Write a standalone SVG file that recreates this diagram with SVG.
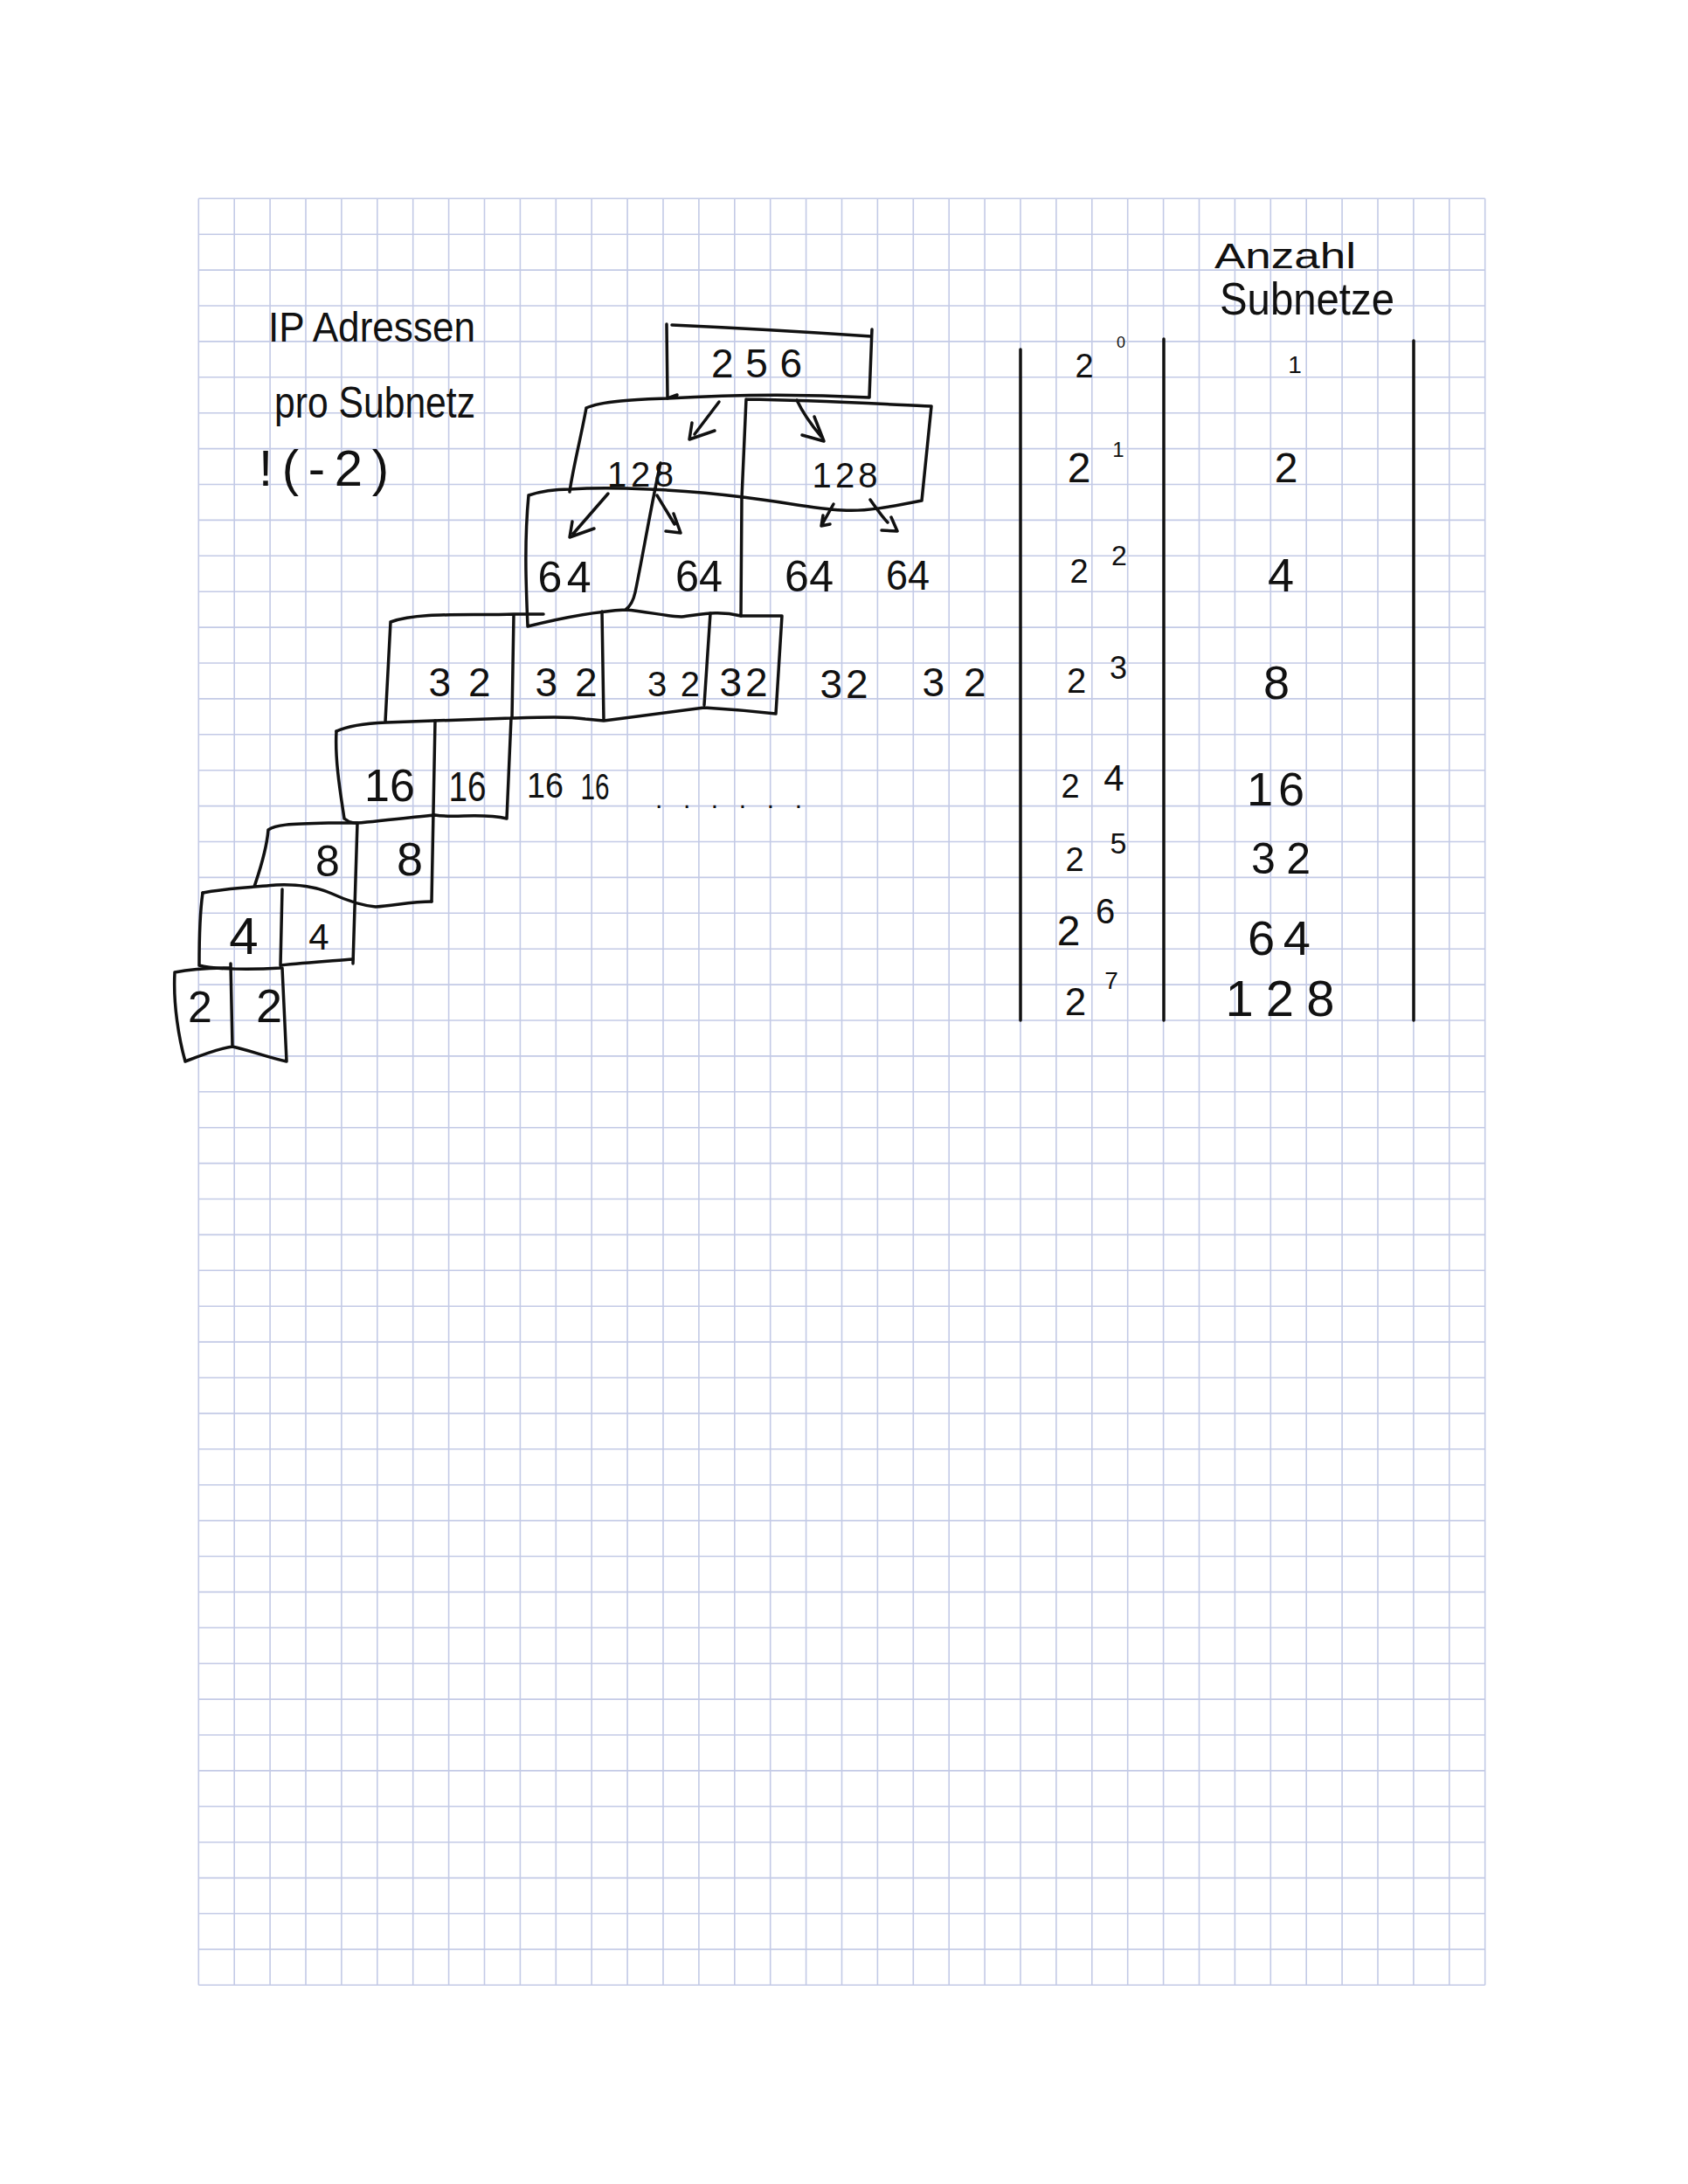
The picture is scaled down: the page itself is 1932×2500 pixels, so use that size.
<svg xmlns="http://www.w3.org/2000/svg" width="1932" height="2500" viewBox="0 0 1932 2500">
<style>
.grid{stroke:#c3cae6;stroke-width:1.6;fill:none}
.ink{stroke:#111;stroke-width:3.5;fill:none;stroke-linecap:round;stroke-linejoin:round}
.t{font-family:"Liberation Sans",Arial,sans-serif;fill:#111;text-anchor:middle}
.s{font-family:"Liberation Sans",Arial,sans-serif;fill:#111;text-anchor:start}
</style>
<rect width="1932" height="2500" fill="#fff"/>
<g id="grid">
<path class="grid" d="M227.3 227.3v2045m40.9-2045v2045m40.9-2045v2045m40.9-2045v2045m40.9-2045v2045m40.9-2045v2045m40.9-2045v2045m40.9-2045v2045m40.9-2045v2045m40.9-2045v2045m40.9-2045v2045m40.9-2045v2045m40.9-2045v2045m40.9-2045v2045m40.9-2045v2045m40.9-2045v2045m40.9-2045v2045m40.9-2045v2045m40.9-2045v2045m40.9-2045v2045m40.9-2045v2045m40.9-2045v2045m40.9-2045v2045m40.9-2045v2045m40.9-2045v2045m40.9-2045v2045m40.9-2045v2045m40.9-2045v2045m40.9-2045v2045m40.9-2045v2045m40.9-2045v2045m40.9-2045v2045m40.9-2045v2045m40.9-2045v2045m40.9-2045v2045m40.9-2045v2045m40.9-2045v2045"/>
<path class="grid" d="M227.3 227.3h1472.4m-1472.4 40.9h1472.4m-1472.4 40.9h1472.4m-1472.4 40.9h1472.4m-1472.4 40.9h1472.4m-1472.4 40.9h1472.4m-1472.4 40.9h1472.4m-1472.4 40.9h1472.4m-1472.4 40.9h1472.4m-1472.4 40.9h1472.4m-1472.4 40.9h1472.4m-1472.4 40.9h1472.4m-1472.4 40.9h1472.4m-1472.4 40.9h1472.4m-1472.4 40.9h1472.4m-1472.4 40.9h1472.4m-1472.4 40.9h1472.4m-1472.4 40.9h1472.4m-1472.4 40.9h1472.4m-1472.4 40.9h1472.4m-1472.4 40.9h1472.4m-1472.4 40.9h1472.4m-1472.4 40.9h1472.4m-1472.4 40.9h1472.4m-1472.4 40.9h1472.4m-1472.4 40.9h1472.4m-1472.4 40.9h1472.4m-1472.4 40.9h1472.4m-1472.4 40.9h1472.4m-1472.4 40.9h1472.4m-1472.4 40.9h1472.4m-1472.4 40.9h1472.4m-1472.4 40.9h1472.4m-1472.4 40.9h1472.4m-1472.4 40.9h1472.4m-1472.4 40.9h1472.4m-1472.4 40.9h1472.4m-1472.4 40.9h1472.4m-1472.4 40.9h1472.4m-1472.4 40.9h1472.4m-1472.4 40.9h1472.4m-1472.4 40.9h1472.4m-1472.4 40.9h1472.4m-1472.4 40.9h1472.4m-1472.4 40.9h1472.4m-1472.4 40.9h1472.4m-1472.4 40.9h1472.4m-1472.4 40.9h1472.4m-1472.4 40.9h1472.4m-1472.4 40.9h1472.4m-1472.4 40.9h1472.4"/>
</g>
<g id="notes">
<text class="s" x="307" y="391" font-size="48" textLength="237" lengthAdjust="spacingAndGlyphs">IP Adressen</text>
<text class="s" x="314" y="478" font-size="50" textLength="230" lengthAdjust="spacingAndGlyphs">pro Subnetz</text>
<text class="s" x="296" y="556" font-size="58" textLength="149" lengthAdjust="spacing">!(-2)</text>
</g>
<g id="node-256">
<path class="ink" d="M763 371L764 456M769 372Q880 377 997 385M998 377L995 454"/>
<text class="t" x="866" y="432" font-size="46" textLength="104" lengthAdjust="spacing">256</text>
</g>
<g id="node-128-left">
<path class="ink" d="M671 467C690 458 740 457 764 456C830 452 900 450 995 455M764 456L775 452M671 467C665 500 655 540 652 563"/>
<text class="t" x="733" y="557" font-size="40" textLength="76" lengthAdjust="spacing">128</text>
</g>
<g id="node-128-right">
<path class="ink" d="M854 457C930 458 1000 462 1066 465M854 457C852 500 850 540 849 570M1066 465L1055 573M1055 573C1020 580 990 586 964 584C930 582 900 575 850 569"/>
<text class="t" x="967" y="558" font-size="40" textLength="75" lengthAdjust="spacing">128</text>
</g>
<g id="node-64">
<path class="ink" d="M605 567C620 562 640 560 652 560C700 557 780 560 850 569M605 567C600 620 602 670 604 717M756 530C745 580 735 640 727 678Q724 692 716 698M849 570L848 705M604 717C640 708 680 700 716 698C740 700 760 705 780 706C800 704 820 698 848 705"/>
<text class="t" x="646" y="678" font-size="50" textLength="61" lengthAdjust="spacing">64</text>
<text class="t" x="800" y="677" font-size="50" textLength="54" lengthAdjust="spacingAndGlyphs">64</text>
<text class="t" x="926" y="677" font-size="50" textLength="56" lengthAdjust="spacing">64</text>
<text class="t" x="1039" y="675" font-size="48" textLength="50" lengthAdjust="spacingAndGlyphs">64</text>
</g>
<g id="node-32">
<path class="ink" d="M447 712C480 700 540 705 588 703L622 703M848 705L895 705M447 712L441 826M588 703L586 822M689 700L691 825M813 702L806 807M895 705L888 817M385 837C400 830 420 828 442 827L585 822C620 821 650 820 670 823L691 825C730 820 770 815 806 810C840 812 870 815 888 817"/>
<text class="t" x="526" y="797" font-size="46" textLength="71" lengthAdjust="spacing">32</text>
<text class="t" x="648" y="797" font-size="46" textLength="71" lengthAdjust="spacing">32</text>
<text class="t" x="771" y="797" font-size="40" textLength="60" lengthAdjust="spacing">32</text>
<text class="t" x="851" y="797" font-size="46" textLength="55" lengthAdjust="spacing">32</text>
<text class="t" x="966" y="799" font-size="46" textLength="55" lengthAdjust="spacing">32</text>
<text class="t" x="1092" y="797" font-size="46" textLength="73" lengthAdjust="spacing">32</text>
</g>
<g id="node-16">
<path class="ink" d="M385 837C383 870 390 910 394 937M498 825L494 1032M585 822L580 937M394 937C400 942 405 943 420 941C450 938 475 935 498 933C520 937 550 930 580 937"/>
<text class="t" x="446" y="917" font-size="52" textLength="58" lengthAdjust="spacing">16</text>
<text class="t" x="535" y="917" font-size="48" textLength="43" lengthAdjust="spacingAndGlyphs">16</text>
<text class="t" x="624" y="913" font-size="40" textLength="42" lengthAdjust="spacingAndGlyphs">16</text>
<text class="t" x="681" y="915" font-size="42" textLength="33" lengthAdjust="spacingAndGlyphs">16</text>
<text class="s" x="750" y="925" font-size="30" textLength="168" lengthAdjust="spacing">. . . . . .</text>
</g>
<g id="node-8">
<path class="ink" d="M307 950C315 944 330 943 376 942L409 942M307 950C305 975 296 1000 291 1015M409 942L404 1103M232 1022C250 1018 280 1016 316 1013C340 1012 360 1014 380 1023C395 1030 410 1036 430 1038C450 1037 470 1032 494 1032"/>
<text class="t" x="375" y="1003" font-size="50">8</text>
<text class="t" x="469" y="1002" font-size="54">8</text>
</g>
<g id="node-4">
<path class="ink" d="M232 1022C228 1050 228 1080 228 1105M323 1018L321 1105M228 1105C245 1110 290 1110 321 1108M321 1105C350 1102 380 1100 404 1098"/>
<text class="t" x="279" y="1092" font-size="60">4</text>
<text class="t" x="365" y="1087" font-size="42">4</text>
</g>
<g id="node-2">
<path class="ink" d="M200 1113C198 1150 205 1190 212 1215M200 1113C215 1110 240 1108 264 1108M264 1103L266 1198M323 1108L328 1215M212 1215C230 1208 250 1200 266 1198C285 1202 305 1210 328 1215"/>
<text class="t" x="229" y="1170" font-size="50">2</text>
<text class="t" x="308" y="1170" font-size="54">2</text>
</g>
<g id="table">
<path class="ink" d="M1168 400V1168M1332 388V1168M1618 390V1168"/>
<text class="s" x="1390" y="307" font-size="40" textLength="162" lengthAdjust="spacingAndGlyphs">Anzahl</text>
<text class="s" x="1396" y="360" font-size="52" textLength="200" lengthAdjust="spacingAndGlyphs">Subnetze</text>
<text class="t" x="1241" y="432" font-size="38">2<tspan x="1283" y="398" font-size="18">0</tspan></text>
<text class="t" x="1482" y="427" font-size="28">1</text>
<text class="t" x="1235" y="552" font-size="48">2<tspan x="1280" y="523" font-size="24">1</tspan></text>
<text class="t" x="1472" y="552" font-size="48">2</text>
<text class="t" x="1235" y="667" font-size="38">2<tspan x="1281" y="647" font-size="32">2</tspan></text>
<text class="t" x="1466" y="677" font-size="54">4</text>
<text class="t" x="1232" y="793" font-size="40">2<tspan x="1280" y="777" font-size="36">3</tspan></text>
<text class="t" x="1461" y="800" font-size="54">8</text>
<text class="t" x="1225" y="913" font-size="38">2<tspan x="1275" y="905" font-size="42">4</tspan></text>
<text class="t" x="1460" y="922" font-size="54" textLength="66" lengthAdjust="spacing">16</text>
<text class="t" x="1230" y="997" font-size="38">2<tspan x="1280" y="977" font-size="34">5</tspan></text>
<text class="t" x="1466" y="1000" font-size="50" textLength="68" lengthAdjust="spacing">32</text>
<text class="t" x="1223" y="1082" font-size="48">2<tspan x="1265" y="1057" font-size="40">6</tspan></text>
<text class="t" x="1464" y="1093" font-size="56" textLength="72" lengthAdjust="spacing">64</text>
<text class="t" x="1231" y="1162" font-size="44">2<tspan x="1272" y="1132" font-size="28">7</tspan></text>
<text class="t" x="1465" y="1163" font-size="58" textLength="125" lengthAdjust="spacing">128</text>
</g>
<g id="connectors">
<path class="ink" d="M823 460L795 497M792 484L789 503L818 493"/>
<path class="ink" d="M912 458C920 475 930 488 940 500M932 477L943 505L918 498"/>
<path class="ink" d="M696 565L656 611M655 597L652 615L680 605"/>
<path class="ink" d="M752 567C760 580 766 590 772 600M771 588L779 610L762 608"/>
<path class="ink" d="M954 577L940 602L950 600M942 590L940 602"/>
<path class="ink" d="M996 572C1003 582 1010 592 1016 598M1020 592L1027 608L1009 607"/>
</g>
</svg>
